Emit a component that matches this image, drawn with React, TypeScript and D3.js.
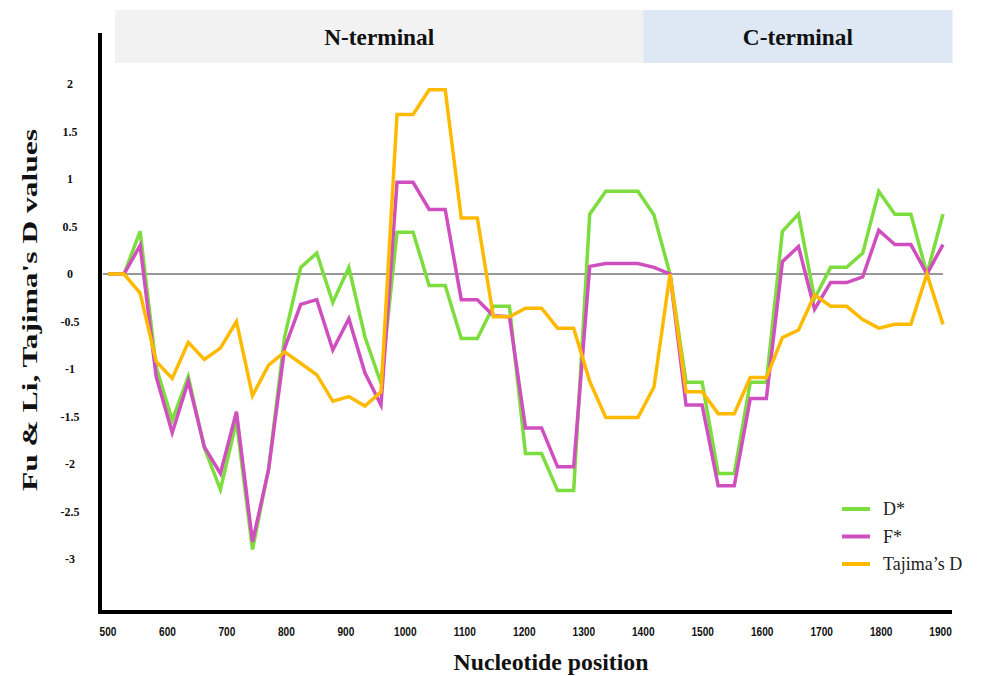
import React from 'react';
import * as d3 from 'd3';

// nucleotide position of each sliding-window point
const positions = [
  500, 527, 554, 581, 608, 635, 662, 689, 716, 743, 770, 797, 824, 851, 878, 905, 932, 959,
  986, 1013, 1040, 1067, 1094, 1121, 1148, 1175, 1202, 1229, 1256, 1283, 1310, 1337, 1364,
  1391, 1418, 1445, 1472, 1499, 1526, 1553, 1580, 1607, 1634, 1661, 1688, 1715, 1742, 1769,
  1796, 1823, 1850, 1877, 1904,
];

const dStar = [
  0, 0, 0.45, -0.98, -1.54, -1.08, -1.83, -2.27, -1.55, -2.9, -2.05, -0.66, 0.07, 0.22, -0.3,
  0.07, -0.66, -1.15, 0.44, 0.44, -0.12, -0.12, -0.68, -0.68, -0.34, -0.34, -1.89, -1.89,
  -2.28, -2.28, 0.63, 0.87, 0.87, 0.87, 0.62, 0, -1.14, -1.14, -2.1, -2.1, -1.14, -1.14,
  0.45, 0.63, -0.26, 0.07, 0.07, 0.22, 0.87, 0.63, 0.63, 0, 0.63,
];

const fStar = [
  0, 0, 0.3, -1.08, -1.67, -1.13, -1.82, -2.1, -1.45, -2.82, -2.06, -0.78, -0.32, -0.27, -0.8,
  -0.47, -1.04, -1.38, 0.965, 0.965, 0.68, 0.68, -0.27, -0.27, -0.44, -0.45, -1.62, -1.62,
  -2.03, -2.03, 0.08, 0.11, 0.11, 0.11, 0.07, 0, -1.38, -1.38, -2.23, -2.23, -1.31, -1.31,
  0.13, 0.29, -0.37, -0.09, -0.09, -0.03, 0.46, 0.31, 0.31, 0, 0.31,
];

const tajimaD = [
  0, 0, -0.2, -0.92, -1.1, -0.72, -0.9, -0.78, -0.5, -1.28, -0.96, -0.82, -0.94, -1.06, -1.34,
  -1.29, -1.39, -1.24, 1.68, 1.68, 1.94, 1.94, 0.59, 0.59, -0.45, -0.45, -0.36, -0.36, -0.57,
  -0.57, -1.13, -1.51, -1.51, -1.51, -1.19, 0, -1.24, -1.24, -1.47, -1.47, -1.09, -1.09,
  -0.67, -0.59, -0.22, -0.34, -0.34, -0.48, -0.57, -0.53, -0.53, 0, -0.53,
];

const xTicks = [500, 600, 700, 800, 900, 1000, 1100, 1200, 1300, 1400, 1500, 1600, 1700, 1800, 1900];
const yTicks = [2, 1.5, 1, 0.5, 0, -0.5, -1, -1.5, -2, -2.5, -3];

const seriesNames = ['D*', 'F*', 'Tajima\u2019s D'];
const seriesColors = ['#7ddc3e', '#cf4fbf', '#ffba00'];

const regions = [
  { name: 'N-terminal', start: 512, end: 1400, fill: '#f2f2f2' },
  { name: 'C-terminal', start: 1400, end: 1920, fill: '#dde8f4' },
];

const serif = '"Liberation Serif", "Times New Roman", serif';
const sans = '"Liberation Sans", Arial, sans-serif';

export default function App() {
  const width = 988;
  const height = 676;

  const x = d3.scaleLinear().domain([500, 1904]).range([108, 943]);
  const y = d3.scaleLinear().domain([-3, 2]).range([559, 84]);

  const all = [dStar, fStar, tajimaD];
  const line = d3
    .line<number>()
    .x((_, i) => x(positions[i]))
    .y(d => y(d));

  const axisX = 100;
  const axisY = 612;

  return (
    <svg
      width={width}
      height={height}
      style={{ position: 'absolute', left: 0, top: 0, background: '#fff' }}
    >
      {/* domain bands on top */}
      {regions.map(r => (
        <g key={r.name}>
          <rect x={x(r.start)} y={10} width={x(r.end) - x(r.start)} height={53} fill={r.fill} />
          <text
            x={(x(r.start) + x(r.end)) / 2}
            y={45}
            textAnchor="middle"
            fontFamily={serif}
            fontWeight="bold"
            fontSize={23}
            textLength={110}
            lengthAdjust="spacingAndGlyphs"
            fill="#111"
          >
            {r.name}
          </text>
        </g>
      ))}

      {/* zero line */}
      <line x1={103} x2={943} y1={y(0)} y2={y(0)} stroke="#333" strokeWidth={1} />

      {/* series */}
      {all.map((s, k) => (
        <path
          key={seriesNames[k]}
          d={line(s) || ''}
          fill="none"
          stroke={seriesColors[k]}
          strokeWidth={3.5}
          strokeLinejoin="miter"
        />
      ))}

      {/* axes */}
      <line x1={axisX} x2={axisX} y1={33} y2={axisY + 2} stroke="#000" strokeWidth={4} />
      <line x1={axisX - 2} x2={952} y1={axisY} y2={axisY} stroke="#000" strokeWidth={4} />

      {yTicks.map(t => (
        <text
          key={t}
          x={70}
          y={y(t)}
          dy="0.35em"
          textAnchor="middle"
          fontFamily={serif}
          fontWeight="bold"
          fontSize={12}
          fill="#111"
        >
          {t}
        </text>
      ))}

      {xTicks.map(t => (
        <text
          key={t}
          transform={`translate(${x(t)}, 636) scale(0.78, 1)`}
          textAnchor="middle"
          fontFamily={sans}
          fontWeight="bold"
          fontSize={13}
          fill="#111"
        >
          {t}
        </text>
      ))}

      {/* axis titles */}
      <text
        transform={`translate(37, 310) rotate(-90)`}
        textAnchor="middle"
        fontFamily={serif}
        fontWeight="bold"
        fontSize={22}
        textLength={362}
        lengthAdjust="spacingAndGlyphs"
        fill="#111"
      >
        Fu &amp; Li, Tajima's D values
      </text>
      <text
        x={551}
        y={670}
        textAnchor="middle"
        fontFamily={serif}
        fontWeight="bold"
        fontSize={23}
        textLength={195}
        lengthAdjust="spacingAndGlyphs"
        fill="#111"
      >
        Nucleotide position
      </text>

      {/* legend */}
      {seriesNames.map((n, k) => (
        <g key={n} transform={`translate(842, ${509 + k * 27.5})`}>
          <line x1={0} x2={28} y1={0} y2={0} stroke={seriesColors[k]} strokeWidth={4} />
          <text x={41} y={0} dy="0.35em" fontFamily={serif} fontSize={18} fill="#222">
            {n}
          </text>
        </g>
      ))}
    </svg>
  );
}
